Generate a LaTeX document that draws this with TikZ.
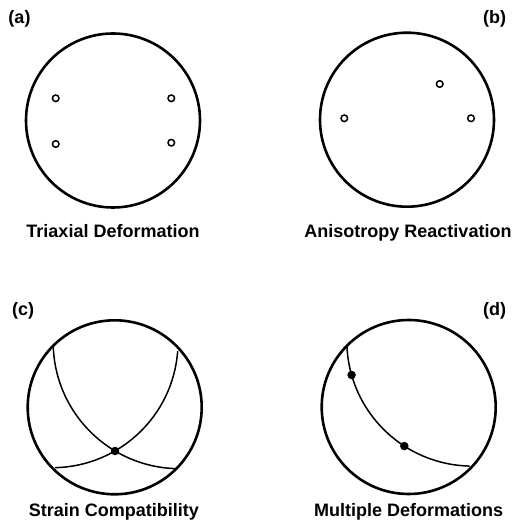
\documentclass[tikz,border=0pt]{standalone}
\usepackage{fontspec}
\setmainfont{Liberation Sans}
\usetikzlibrary{positioning}

\begin{document}
\begin{tikzpicture}[
 x=1pt,y=1pt,
 net/.style={circle,draw,line width=2.6pt,minimum size=174pt,inner sep=0pt},
 pole/.style={circle,draw,line width=1.5pt,minimum size=6.6pt,inner sep=0pt},
 hit/.style={circle,fill,minimum size=8.5pt,inner sep=0pt},
 girdle/.style={line width=1.5pt},
 tag/.style={font=\bfseries\fontsize{18}{20}\selectfont,inner sep=0pt},
 caption/.style={font=\bfseries\fontsize{18}{20}\selectfont,inner sep=0pt,anchor=base}
]
\useasboundingbox (0,0) rectangle (514,525);
% (a)
\node[net] (netA) at (113,404.5) {};
\node[pole] (a1) at (55.7,426.7) {};
\node[pole] (a2) at (55.7,381) {};
\node[pole] (a3) at (171.3,426.7) {};
\node[pole] (a4) at (171.3,382.3) {};
\node[tag,anchor=base west] (labA) at (8.3,501) {(a)};
\node[caption] (capA) at (113,287.3) {Triaxial Deformation};
% (b)
\node[net] (netB) at (407,405.3) {};
\node[pole] (b1) at (344.3,406.7) {};
\node[pole] (b2) at (439.7,441) {};
\node[pole] (b3) at (471,406.7) {};
\node[tag,anchor=base east] (labB) at (506.3,501) {(b)};
\node[caption] (capB) at (408,287.3) {Anisotropy Reactivation};
% (c)
\node[net] (netC) at (114.7,117.7) {};
\coordinate (cL) at (179.6,182.7);
\coordinate (cR) at (52.3,183);
\draw[girdle] (cL) ++(182.1:126.4) arc[start angle=182.1,end angle=267.9,radius=126.4];
\draw[girdle] (cR) ++(-4.2:125.7) arc[start angle=-4.2,end angle=-88.8,radius=125.7];
\node[hit] (cx) at (115,74) {};
\node[tag,anchor=base west] (labC) at (12,209) {(c)};
\node[caption] (capC) at (113.8,9) {Strain Compatibility};
% (d)
\node[net] (netD) at (408.7,118) {};
\coordinate (cD) at (472.3,184.4);
\draw[girdle] (cD) ++(182.9:125.5) arc[start angle=182.9,end angle=268.8,radius=125.5];
\path (cD) ++(195.9:125.5) node[hit] (d1) {};
\path (cD) ++(237.2:125.5) node[hit] (d2) {};
\node[tag,anchor=base east] (labD) at (506.3,209) {(d)};
\node[caption] (capD) at (408.7,9) {Multiple Deformations};
\end{tikzpicture}
\end{document}
